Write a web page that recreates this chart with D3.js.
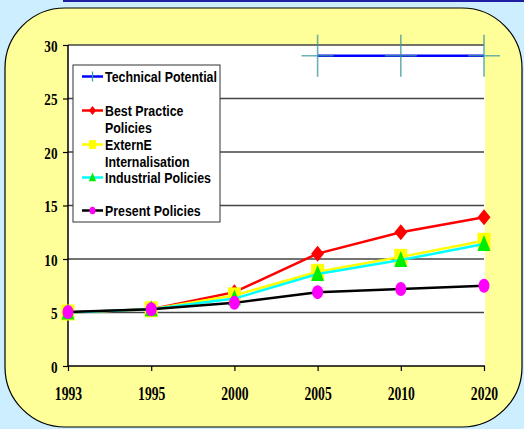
<!DOCTYPE html>
<html>
<head>
<meta charset="utf-8">
<script src="https://cdn.jsdelivr.net/npm/d3@7"></script>
<style>
  body { margin: 0; background: #cceeff; }
  svg { display: block; }
</style>
</head>
<body>
<svg width="524" height="429"></svg>
<script>
// data
var years = ["1993", "1995", "2000", "2005", "2010", "2020"];
var technical = [null, null, null, 29, 29, 29];
var bestPractice = [5.0, 5.3, 6.9, 10.5, 12.5, 13.9];
var externE = [5.0, 5.3, 6.6, 8.8, 10.2, 11.7];
var industrial = [5.0, 5.3, 6.3, 8.6, 9.9, 11.4];
var present = [5.05, 5.3, 5.9, 6.9, 7.2, 7.5];
var yTicks = [0, 5, 10, 15, 20, 25, 30];

var series = [
  { name: "Technical Potential", values: technical, line: "#0000ff", marker: "plus", fill: "#3a9a9a" },
  { name: "Best Practice\nPolicies", values: bestPractice, line: "#ff0000", marker: "diamond", fill: "#ff0000" },
  { name: "ExternE\nInternalisation", values: externE, line: "#ffff00", marker: "square", fill: "#ffff00" },
  { name: "Industrial Policies", values: industrial, line: "#00ffff", marker: "triangle", fill: "#00ee00" },
  { name: "Present Policies", values: present, line: "#000000", marker: "circle", fill: "#ff00ff" }
];

var svg = d3.select("svg");

// background panel
svg.append("rect").attr("x", 63).attr("y", 0).attr("width", 461).attr("height", 2).attr("fill", "#1e1ea0");
svg.append("rect")
  .attr("x", 5).attr("y", 8).attr("width", 517).attr("height", 419)
  .attr("rx", 60).attr("ry", 60)
  .attr("fill", "#ffff99").attr("stroke", "#000").attr("stroke-width", 1.2);

var pLeft = 68, pRight = 484, pTop = 45, pBottom = 366;

var x = d3.scalePoint().domain(years).range([pLeft, pRight]);
var y = d3.scaleLinear().domain([0, 30]).range([pBottom, pTop]);

// plot area
svg.append("rect").attr("x", pLeft).attr("y", pTop).attr("width", pRight - pLeft + 1).attr("height", pBottom - pTop).attr("fill", "#fff");

svg.selectAll(".grid").data(yTicks.filter(function(d) { return d > 0; }))
  .enter().append("line")
    .attr("x1", pLeft).attr("x2", pRight)
    .attr("y1", function(d) { return y(d); }).attr("y2", function(d) { return y(d); })
    .attr("stroke", "#444").attr("stroke-width", 1.3);

// axes
var yAxis = svg.append("g").attr("transform", "translate(" + pLeft + ",0)")
  .call(d3.axisLeft(y).tickValues(yTicks).tickSize(5));
var xAxis = svg.append("g").attr("transform", "translate(0," + pBottom + ")")
  .call(d3.axisBottom(x).tickSize(5));
[yAxis, xAxis].forEach(function(g) {
  g.select(".domain").attr("stroke", "#000").attr("stroke-width", 1.5);
  g.selectAll(".tick line").attr("stroke", "#000").attr("stroke-width", 1.2);
  g.selectAll("text").attr("fill", "#000")
    .style("font-family", "'Liberation Serif', 'Times New Roman', serif")
    .style("font-weight", "bold");
});
xAxis.select(".domain").attr("d", "M" + pLeft + ",0H" + (pRight + 1));
yAxis.select(".domain").attr("d", "M0," + pBottom + "V" + pTop);

// squeezed tick labels, like the original
xAxis.selectAll("text").style("font-size", "19.5px")
  .attr("y", 20).attr("transform", "scale(0.7,1)");
yAxis.selectAll("text").style("font-size", "16.5px")
  .attr("x", -10.5 / 0.8).attr("y", 1).attr("transform", "scale(0.8,1)");

function drawMarker(g, type, cx, cy, fill, s) {
  s = s || 1;
  if (type === "plus") {
    g.append("path")
      .attr("d", "M" + (cx - 16) + "," + cy + "H" + (cx + 16) + "M" + cx + "," + (cy - 21) + "V" + (cy + 21))
      .attr("stroke", fill).attr("stroke-width", 1.6).attr("opacity", 0.75);
  } else if (type === "diamond") {
    g.append("path").attr("d", "M" + cx + "," + (cy - 8 * s) + "L" + (cx + 6.5 * s) + "," + cy + "L" + cx + "," + (cy + 8 * s) + "L" + (cx - 6.5 * s) + "," + cy + "Z").attr("fill", fill);
  } else if (type === "square") {
    g.append("rect").attr("x", cx - 6.5 * s).attr("y", cy - 8 * s).attr("width", 13 * s).attr("height", 16 * s).attr("fill", fill);
  } else if (type === "triangle") {
    g.append("path").attr("d", "M" + cx + "," + (cy - 9 * s) + "L" + (cx + 6.5 * s) + "," + (cy + 7 * s) + "L" + (cx - 6.5 * s) + "," + (cy + 7 * s) + "Z").attr("fill", fill);
  } else if (type === "circle") {
    g.append("ellipse").attr("cx", cx).attr("cy", cy).attr("rx", 5.5 * s).attr("ry", 7 * s).attr("fill", fill);
  }
}

var line = d3.line()
  .defined(function(d) { return d != null; })
  .x(function(d, i) { return x(years[i]); })
  .y(function(d) { return y(d); });

series.forEach(function(s) {
  var g = svg.append("g");
  g.append("path").attr("d", line(s.values))
    .attr("fill", "none").attr("stroke", s.line).attr("stroke-width", 2.5);
  s.values.forEach(function(v, i) {
    if (v != null) drawMarker(g, s.marker, x(years[i]), y(v), s.fill);
  });
});

// legend
var lg = svg.append("g");
lg.append("rect").attr("x", 73).attr("y", 65).attr("width", 147).attr("height", 157)
  .attr("fill", "#fff").attr("stroke", "#333").attr("stroke-width", 1);
var legendBase = [82, 116, 150, 183, 216];
series.forEach(function(s, i) {
  var ly = legendBase[i] - 5.5;
  lg.append("line").attr("x1", 82).attr("x2", 103).attr("y1", ly).attr("y2", ly)
    .attr("stroke", s.line).attr("stroke-width", 2.5);
  if (s.marker === "plus") {
    lg.append("path").attr("d", "M" + 92.5 + "," + (ly - 5) + "V" + (ly + 5)).attr("stroke", s.fill).attr("stroke-width", 1.2);
  } else {
    drawMarker(lg, s.marker, 92.5, ly, s.fill, 0.55);
  }
  var txt = lg.append("text").attr("y", legendBase[i])
    .attr("transform", "translate(105,0) scale(0.8,1)")
    .style("font-family", "'Liberation Sans', Arial, sans-serif")
    .style("font-weight", "bold").style("font-size", "15.5px").attr("fill", "#000");
  s.name.split("\n").forEach(function(part, j) {
    txt.append("tspan").attr("x", 0).attr("dy", j === 0 ? 0 : 17).text(part);
  });
});
</script>
</body>
</html>
